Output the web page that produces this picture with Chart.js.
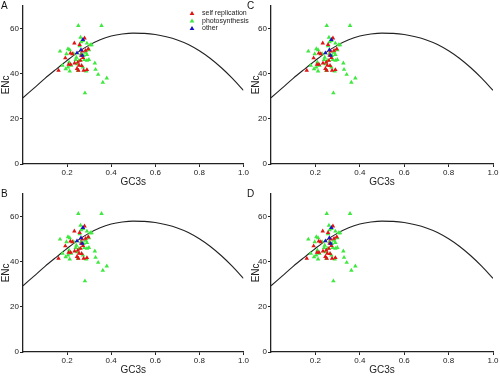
<!DOCTYPE html>
<html><head><meta charset="utf-8">
<script src="https://cdn.jsdelivr.net/npm/chart.js@4.4.1/dist/chart.umd.min.js"></script>
<style>
html,body{margin:0;padding:0;background:#fff;}
#wrap{position:relative;width:500px;height:376px;overflow:hidden;font-family:"Liberation Sans",Arial,sans-serif;}
canvas{position:absolute;}
.lbl{position:absolute;font-size:10px;color:#111;line-height:10px;}
</style></head><body>
<div id="wrap">
<canvas id="cA" width="250" height="188" style="left:0;top:0"></canvas>
<canvas id="cC" width="250" height="188" style="left:250px;top:0"></canvas>
<canvas id="cB" width="250" height="188" style="left:0;top:188px"></canvas>
<canvas id="cD" width="250" height="188" style="left:250px;top:188px"></canvas>
<div class="lbl" style="left:1px;top:1px">A</div>
<div class="lbl" style="left:247px;top:1px">C</div>
<div class="lbl" style="left:1px;top:189px">B</div>
<div class="lbl" style="left:247px;top:189px">D</div>
</div>
<script>
const seriesNames = ["self replication", "photosynthesis", "other"];
const selfReplication = [[0.161,41.4],[0.192,46.9],[0.233,53.5],[0.257,52.8],[0.279,55.7],[0.284,50.2],[0.296,50.9],[0.215,49.0],[0.224,48.7],[0.249,45.0],[0.234,44.6],[0.245,42.2],[0.207,44.0],[0.216,44.0],[0.254,43.6],[0.261,45.8],[0.266,43.5],[0.251,41.4],[0.275,41.4],[0.29,41.7],[0.269,49.9],[0.264,48.0],[0.272,47.0]];
const photosynthesis = [[0.251,61.2],[0.356,61.2],[0.168,49.9],[0.261,56.0],[0.272,54.6],[0.264,54.0],[0.29,53.4],[0.305,52.7],[0.311,52.7],[0.299,50.5],[0.204,50.9],[0.212,50.5],[0.197,48.7],[0.23,48.7],[0.257,52.2],[0.242,47.2],[0.179,43.6],[0.194,42.1],[0.204,42.8],[0.209,45.0],[0.218,43.6],[0.239,46.1],[0.246,44.3],[0.254,45.8],[0.263,48.7],[0.275,48.0],[0.284,49.4],[0.29,48.4],[0.299,46.2],[0.29,45.8],[0.278,46.1],[0.287,41.1],[0.326,44.6],[0.329,41.8],[0.341,39.6],[0.38,38.0],[0.362,36.1],[0.281,31.4],[0.212,41.1],[0.249,41.4],[0.272,42.8]];
const other = [[0.272,55.0],[0.245,49.1],[0.263,50.5],[0.269,48.0]];
const curveX = [0,0.05,0.1,0.15,0.2,0.25,0.3,0.35,0.4,0.45,0.5,0.55,0.6,0.65,0.7,0.75,0.8,0.85,0.9,0.95,1.0];
const curveY = [29.3,33.6,37.9,41.9,45.8,49.5,52.6,55.0,56.6,57.5,57.9,57.8,57.3,56.3,54.9,52.9,50.1,46.7,42.6,37.9,32.6];
const xTicks = [0.2,0.4,0.6,0.8,1.0];
const yTicks = [0,20,40,60];
const colors = ["#dd1515","#3fe83f","#1515c0"];

const toPts = a => a.map(p => ({x:p[0], y:p[1]}));

const legendPlugin = {
  id:'insideLegend',
  afterDraw(chart, args, opts){
    if(!opts.show) return;
    const ctx = chart.ctx;
    ctx.save();
    ctx.font = '7px "Liberation Sans", Arial, sans-serif';
    ctx.textBaseline = 'middle';
    seriesNames.forEach((n,i)=>{
      const y = 13.3 + i*7.5, x = 192;
      ctx.fillStyle = colors[i];
      ctx.beginPath();
      ctx.moveTo(x, y-2.4); ctx.lineTo(x+2.4, y+1.8); ctx.lineTo(x-2.4, y+1.8); ctx.closePath(); ctx.fill();
      ctx.fillStyle = '#222';
      ctx.fillText(n, 202, y);
    });
    ctx.restore();
  }
};

function makeChart(id, leftW, showLegend){
  const ds = [
    {label:seriesNames[0], type:'scatter', data:toPts(selfReplication), backgroundColor:colors[0], borderColor:colors[0], pointStyle:'triangle', pointRadius:2.6, borderWidth:0, order:1},
    {label:seriesNames[1], type:'scatter', data:toPts(photosynthesis), backgroundColor:colors[1], borderColor:colors[1], pointStyle:'triangle', pointRadius:2.6, borderWidth:0, order:2},
    {label:seriesNames[2], type:'scatter', data:toPts(other), backgroundColor:colors[2], borderColor:colors[2], pointStyle:'triangle', pointRadius:2.6, borderWidth:0, order:0},
    {label:'expected', type:'line', data:curveX.map((x,i)=>({x:x,y:curveY[i]})), borderColor:'#222', borderWidth:1.1, pointRadius:0, cubicInterpolationMode:'monotone', fill:false, order:3}
  ];
  return new Chart(document.getElementById(id), {
    type:'scatter',
    data:{datasets:ds},
    plugins:[legendPlugin],
    options:{
      responsive:false, animation:false, devicePixelRatio:1,
      layout:{padding:{top:5, right:250-leftW-222, left:0, bottom:0}},
      plugins:{legend:{display:false}, tooltip:{enabled:false}, insideLegend:{show:showLegend}},
      scales:{
        x:{type:'linear', min:0, max:1,
          afterBuildTicks(s){ s.ticks = xTicks.map(v=>({value:v})); },
          afterFit(s){ s.height = 24; },
          border:{color:'#222', width:1.3},
          grid:{drawOnChartArea:false, drawTicks:true, tickLength:3, color:'#222', lineWidth:1},
          ticks:{font:{size:8, family:'"Liberation Sans", Arial, sans-serif'}, color:'#222', padding:1, maxRotation:0, callback:v=>v.toFixed(1)},
          title:{display:true, text:'GC3s', font:{size:10, family:'"Liberation Sans", Arial, sans-serif'}, color:'#222', padding:{top:-3, bottom:0}}
        },
        y:{type:'linear', min:0, max:70,
          afterBuildTicks(s){ s.ticks = yTicks.map(v=>({value:v})); },
          afterFit(s){ s.width = leftW; },
          border:{color:'#222', width:1.3},
          grid:{drawOnChartArea:false, drawTicks:true, tickLength:3, color:'#222', lineWidth:1},
          ticks:{font:{size:8, family:'"Liberation Sans", Arial, sans-serif'}, color:'#222', padding:1},
          title:{display:true, text:'ENc', font:{size:10, family:'"Liberation Sans", Arial, sans-serif'}, color:'#222', padding:0}
        }
      }
    }
  });
}
makeChart('cA', 23, true);
makeChart('cC', 21, false);
makeChart('cB', 23, false);
makeChart('cD', 21, false);
</script>
</body></html>
